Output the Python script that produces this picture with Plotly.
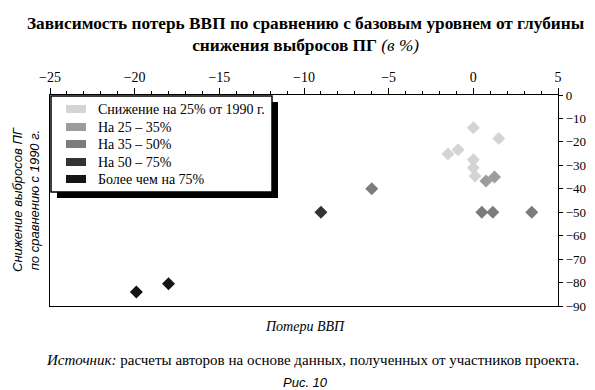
import plotly.graph_objects as go

# ---- data ----
series_names = ["Снижение на 25% от 1990 г.", "На 25 – 35%", "На 35 – 50%", "На 50 – 75%", "Более чем на 75%"]
series_colors = ["#d4d4d4", "#9c9c9c", "#7c7c7c", "#333333", "#151515"]

s1_x = [0.0, 1.5, -1.5, -0.9, 0.0, 0.0, 0.1]
s1_y = [-14, -18.6, -25.2, -23.3, -27.6, -31, -34.5]
s2_x = [0.75, 1.25]
s2_y = [-36.7, -35]
s3_x = [-6.0, 0.5, 1.15, 3.45]
s3_y = [-40, -50, -50, -50]
s4_x = [-9.0]
s4_y = [-50]
s5_x = [-19.9, -18.0]
s5_y = [-84, -80.5]

x_ticks = [-25, -20, -15, -10, -5, 0, 5]
x_tick_labels = ["−25", "−20", "−15", "−10", "−5", "0", "5"]
y_ticks = [0, -10, -20, -30, -40, -50, -60, -70, -80, -90]
y_tick_labels = ["0", "−10", "−20", "−30", "−40", "−50", "−60", "−70", "−80", "−90"]

W, H = 595, 390
L, R, T, B = 42, 550, 87, 298

def px(x):
    return (x - L) / (R - L)

def py(y):
    return (B - y) / (B - T)

SERIF = "Liberation Serif"
SANS = "Liberation Sans"

fig = go.Figure()
xs = [s1_x, s2_x, s3_x, s4_x, s5_x]
ys = [s1_y, s2_y, s3_y, s4_y, s5_y]
for name, c, x, y in zip(series_names, series_colors, xs, ys):
    fig.add_trace(go.Scatter(x=x, y=y, mode="markers", name=name,
                             marker=dict(symbol="diamond", size=10, color=c, line=dict(width=0))))

shapes = []
annotations = []
# custom legend with shadow
shapes.append(dict(type="rect", xref="paper", yref="paper", x0=px(49), x1=px(270), y0=py(190), y1=py(94),
                   fillcolor="black", line=dict(width=0), layer="above"))
shapes.append(dict(type="rect", xref="paper", yref="paper", x0=px(43), x1=px(264), y0=py(184), y1=py(88),
                   fillcolor="white", line=dict(color="black", width=1.5), layer="above"))
rows = [101, 119, 136, 154, 171]
for name, c, ry in zip(series_names, series_colors, rows):
    shapes.append(dict(type="rect", xref="paper", yref="paper", x0=px(58), x1=px(78), y0=py(ry + 4), y1=py(ry - 4),
                       fillcolor=c, line=dict(width=0), layer="above"))
    annotations.append(dict(xref="paper", yref="paper", x=px(88), y=py(ry), text=name, showarrow=False,
                            xanchor="left", yanchor="middle", font=dict(family=SERIF, size=14, color="black")))

# titles and captions
annotations.append(dict(xref="paper", yref="paper", x=px(297.5), y=py(26), showarrow=False,
                        xanchor="center", yanchor="middle",
                        text="<b>Зависимость потерь ВВП по сравнению с базовым уровнем от глубины</b><br><b>снижения выбросов ПГ</b> <i>(в %)</i>",
                        font=dict(family=SERIF, size=17.3, color="black")))
annotations.append(dict(xref="paper", yref="paper", x=px(18), y=py(192), showarrow=False, textangle=-90,
                        xanchor="center", yanchor="middle",
                        text="<i>Снижение выбросов ПГ<br>по сравнению с 1990 г.</i>",
                        font=dict(family=SANS, size=13, color="black")))
annotations.append(dict(xref="paper", yref="paper", x=px(297), y=py(318), showarrow=False,
                        xanchor="center", yanchor="middle", text="<i>Потери ВВП</i>",
                        font=dict(family=SERIF, size=14, color="black")))
annotations.append(dict(xref="paper", yref="paper", x=px(304), y=py(352), showarrow=False,
                        xanchor="center", yanchor="middle",
                        text="<i>Источник:</i> расчеты авторов на основе данных, полученных от участников проекта.",
                        font=dict(family=SERIF, size=15, color="black")))
annotations.append(dict(xref="paper", yref="paper", x=px(297), y=py(374), showarrow=False,
                        xanchor="center", yanchor="middle", text="<i>Рис. 10</i>",
                        font=dict(family=SANS, size=13, color="black")))

fig.update_layout(
    width=W, height=H,
    margin=dict(l=L, r=W - R, t=T, b=H - B),
    paper_bgcolor="white", plot_bgcolor="white",
    showlegend=False,
    shapes=shapes, annotations=annotations,
    xaxis=dict(range=[-25, 5], side="top", tickvals=x_ticks, ticktext=x_tick_labels,
               ticks="outside", ticklen=6, tickcolor="black", showline=True, linecolor="black", linewidth=1.2,
               mirror=True, showgrid=False, zeroline=False,
               minor=dict(dtick=1, ticks="outside", ticklen=3, tickcolor="black", showgrid=False),
               tickfont=dict(family=SERIF, size=14, color="black")),
    yaxis=dict(range=[-90, 0], side="right", tickvals=y_ticks, ticktext=y_tick_labels,
               ticks="outside", ticklen=4, tickcolor="black", showline=True, linecolor="black", linewidth=1.2,
               mirror=True, showgrid=False, zeroline=False,
               tickfont=dict(family=SERIF, size=13, color="black")),
)

fig.write_html("out.html")
